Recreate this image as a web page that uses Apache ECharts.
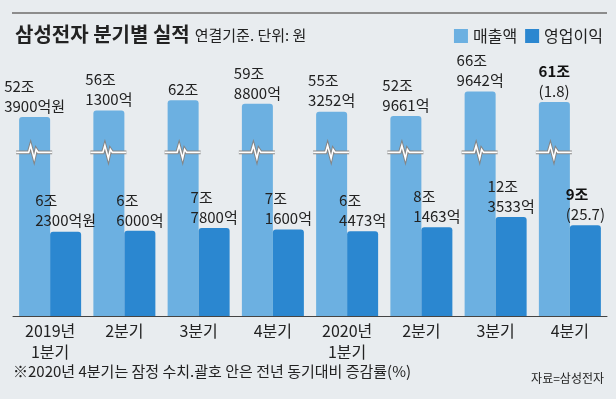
<!DOCTYPE html>
<html>
<head>
<meta charset="utf-8">
<script src="https://cdn.jsdelivr.net/npm/echarts@6/dist/echarts.min.js"></script>
<style>
  html, body { margin: 0; padding: 0; background: #e8ecef; }
  #chart { width: 616px; height: 399px; }
</style>
</head>
<body>
<div id="chart"></div>
<script>
// 단위: 억원
const quarters = ['2019년\n1분기', '2분기', '3분기', '4분기', '2020년\n1분기', '2분기', '3분기', '4분기']
const sales = [523900, 561300, 620000, 598800, 553252, 529661, 669642, 610000]
const profit = [62300, 66000, 77800, 71600, 64473, 81463, 123533, 90000]
// 4분기 잠정치 전년 동기대비 증감률(%)
const salesGrowth = 1.8
const profitGrowth = 25.7
// 매출액 막대의 생략(물결) 표시 위치, 매출액 축 기준
const breakAt = 320000

const LIGHT = '#6cb0e1'
const DARK = '#2b87d0'
const FONT = "'Noto Sans CJK KR', sans-serif"
const LAST = quarters.length - 1

function labelText(v, i, growth) {
  const jo = Math.floor(v / 10000)
  const eok = Math.round(v % 10000)
  const first = i === LAST ? '{b|' + jo + '조}' : '{n|' + jo + '조}'
  let second = ''
  if (i === LAST) {
    second = '(' + growth + ')'
  } else if (eok) {
    second = eok + '억' + (i === 0 ? '원' : '')
  }
  return second ? first + '\n{n|' + second + '}' : first
}

const labelRich = {
  n: { fontSize: 15, lineHeight: 20, align: 'left', color: '#222', fontFamily: FONT },
  b: { fontSize: 15, lineHeight: 20, align: 'left', color: '#111', fontWeight: 'bold', fontFamily: FONT }
}

const chart = echarts.init(document.getElementById('chart'))
chart.setOption({
  backgroundColor: '#e8ecef',
  animation: false,
  title: {
    left: 10,
    top: 19,
    text: '{a|삼성전자 분기별 실적} {s|연결기준. 단위: 원}',
    textStyle: {
      rich: {
        a: { fontSize: 20, fontWeight: 'bold', color: '#222', fontFamily: FONT },
        s: { fontSize: 15, fontWeight: 'normal', color: '#222', fontFamily: FONT, padding: [3, 0, 0, 0] }
      }
    }
  },
  legend: {
    right: 8,
    top: 23,
    icon: 'rect',
    itemWidth: 14,
    itemHeight: 14,
    itemGap: 8,
    data: ['매출액', '영업이익'],
    textStyle: { fontSize: 16, color: '#222', fontFamily: FONT }
  },
  graphic: [
    {
      type: 'line',
      shape: { x1: 12, y1: 13, x2: 607, y2: 13 },
      style: { stroke: '#8c8c8c', lineWidth: 2 }
    },
    {
      type: 'text',
      left: 13,
      top: 364,
      style: {
        text: '※2020년 4분기는 잠정 수치.괄호 안은 전년 동기대비 증감률(%)',
        fontSize: 15,
        fill: '#222',
        fontFamily: FONT
      }
    },
    {
      type: 'text',
      right: 12,
      top: 372,
      style: { text: '자료=삼성전자', fontSize: 12, fill: '#222', fontFamily: FONT }
    }
  ],
  grid: { left: 13, right: 9, top: 41, bottom: 83 },
  xAxis: {
    type: 'category',
    data: quarters,
    axisTick: { show: false },
    axisLine: { onZero: false, lineStyle: { color: '#444', width: 1 } },
    axisLabel: { fontSize: 16, lineHeight: 21, margin: 4, color: '#222', fontFamily: FONT }
  },
  yAxis: [
    { type: 'value', show: false, min: -620000, max: 960000, startValue: -620000, splitLine: { show: false } },
    { type: 'value', show: false, min: -290000, max: 860000, startValue: -290000, splitLine: { show: false } }
  ],
  series: [
    {
      name: '매출액',
      type: 'bar',
      yAxisIndex: 0,
      data: sales,
      barWidth: 31,
      barGap: '0%',
      itemStyle: { color: LIGHT, borderRadius: [3, 3, 0, 0] },
      label: {
        show: true,
        position: 'top',
        distance: 1,
        formatter: p => labelText(p.value, p.dataIndex, salesGrowth),
        rich: labelRich
      }
    },
    {
      name: '영업이익',
      type: 'bar',
      yAxisIndex: 1,
      data: profit,
      barWidth: 31,
      barGap: '0%',
      itemStyle: { color: DARK, borderRadius: [3, 3, 0, 0] },
      label: {
        show: true,
        position: 'top',
        distance: 1,
        formatter: p => labelText(p.value, p.dataIndex, profitGrowth),
        rich: labelRich
      }
    },
    {
      type: 'custom',
      yAxisIndex: 0,
      silent: true,
      z: 5,
      data: quarters.map((q, i) => [i, breakAt]),
      renderItem: function(params, api) {
        const p = api.coord([api.value(0), api.value(1)])
        const cx = p[0] - 15.5
        const pts = [[-18.5, 0], [-6, 0], [-4, -7], [-0.5, 6], [1.5, -3], [3.5, 0], [17.5, 0]]
          .map(d => [cx + d[0], p[1] + d[1]])
        return {
          type: 'group',
          children: [
            { type: 'polyline', shape: { points: pts }, style: { stroke: '#858585', lineWidth: 3.6, fill: null } },
            { type: 'polyline', shape: { points: pts }, style: { stroke: '#ffffff', lineWidth: 1.6, fill: null } }
          ]
        }
      }
    }
  ]
})
</script>
</body>
</html>
